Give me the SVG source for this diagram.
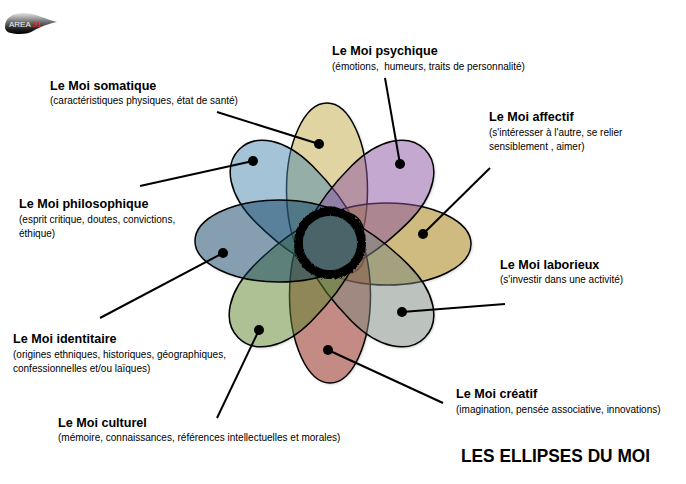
<svg xmlns="http://www.w3.org/2000/svg" width="686" height="484" viewBox="0 0 686 484">
<defs>
<linearGradient id="badge" x1="0" y1="0" x2="0" y2="1"><stop offset="0" stop-color="#e4e4e4"/><stop offset="0.4" stop-color="#777"/><stop offset="0.75" stop-color="#222"/><stop offset="1" stop-color="#000"/></linearGradient>
<filter id="soft" x="-10%" y="-10%" width="120%" height="120%"><feGaussianBlur stdDeviation="1.5"/></filter>
<filter id="rough" x="-20%" y="-20%" width="140%" height="140%"><feTurbulence type="fractalNoise" baseFrequency="0.35" numOctaves="2" seed="4"/><feDisplacementMap in="SourceGraphic" scale="3.5" xChannelSelector="R" yChannelSelector="G"/></filter>
<path id="egg" d="M-86 0C-86 -26 -30 -40 20 -40C58 -40 83 -23 83 0C83 23 58 40 20 40C-30 40 -86 26 -86 0Z"/>
<g id="flower">
<ellipse cx="327" cy="190" rx="40.5" ry="87"/>
<ellipse cx="387" cy="244" rx="84" ry="41"/>
<ellipse cx="330" cy="295" rx="40.5" ry="88"/>
<ellipse cx="279" cy="241" rx="84" ry="41"/>
<use href="#egg" transform="translate(366 208) rotate(-45)"/>
<use href="#egg" transform="translate(366 279) rotate(45)"/>
<use href="#egg" transform="translate(297 279) rotate(135)"/>
<use href="#egg" transform="translate(298 208) rotate(225)"/>
</g>
</defs>
<style>
text{font-family:"Liberation Sans",Arial,sans-serif;fill:#000}
.t{font-size:12.6px;font-weight:bold}
.s{font-size:10px;white-space:pre}
.e{stroke:#000;stroke-width:1.5;fill-opacity:.5}
.c{stroke:#000;stroke-width:2;fill:none}
.d{fill:#000}
</style>
<rect width="686" height="484" fill="#fff"/>
<g id="logo"><path d="M5 27C5 18 12 13 24 13C36 13 44 19 57 22C47 24 40 27 33 31C30 33 26 34 20 34C10 34 5 32 5 27Z" fill="url(#badge)"/><text x="9" y="27" style="font-size:8px;fill:#f2f2f2">AREA</text><text x="32" y="27" style="font-size:8px;fill:#f02020">31</text></g>
<use id="shadows" href="#flower" transform="translate(1 1)" fill="#888" opacity=".55" filter="url(#soft)"/>
<use id="backing" href="#flower" fill="#fff"/>
<g id="petals">
<ellipse id="e-somatique" class="e" fill="#c1a945" cx="327" cy="190" rx="40.5" ry="87"/>
<use id="e-philo" class="e" fill="#4b87ad" href="#egg" transform="translate(298 208) rotate(225)"/>
<ellipse id="e-affectif" class="e" fill="#9f7701" cx="387" cy="244" rx="84" ry="41"/>
<use id="e-psychique" class="e" fill="#8951a1" href="#egg" transform="translate(366 208) rotate(-45)"/>
<ellipse id="e-creatif" class="e" fill="#891509" cx="330" cy="295" rx="40.5" ry="88"/>
<use id="e-laborieux" class="e" fill="#79877d" href="#egg" transform="translate(366 279) rotate(45)"/>
<use id="e-culturel" class="e" fill="#5b832b" href="#egg" transform="translate(297 279) rotate(135)"/>
<ellipse id="e-identitaire" class="e" fill="#0d3f61" cx="279" cy="241" rx="84" ry="41"/>
</g>
<g id="centre">
<circle cx="330" cy="243" r="31.5" fill="none" stroke="#000" stroke-width="9" filter="url(#rough)"/>
<circle cx="330" cy="243" r="27" fill="#4a646a"/>
</g>
<g id="connectors">
<path class="c" d="M217 112L319 144"/><path class="c" d="M385 78L400 164"/><path class="c" d="M490 168L423 234"/><path class="c" d="M505 304L402 312"/><path class="c" d="M443 403L328 350"/><path class="c" d="M217 418L259 330"/><path class="c" d="M100 318L223 253"/><path class="c" d="M140 186L253 161"/>
</g>
<g id="dots">
<circle class="d" cx="319" cy="144" r="5"/><circle class="d" cx="400" cy="164" r="5"/><circle class="d" cx="423" cy="234" r="5"/><circle class="d" cx="402" cy="312" r="5"/><circle class="d" cx="328" cy="350" r="5"/><circle class="d" cx="259" cy="330" r="5"/><circle class="d" cx="223" cy="253" r="5"/><circle class="d" cx="253" cy="161" r="5"/>
</g>
<g id="label-psychique"><text class="t" x="332" y="55">Le Moi psychique</text><text class="s" x="332" y="70">(émotions,  humeurs, traits de personnalité)</text></g>
<g id="label-somatique"><text class="t" x="50" y="90">Le Moi somatique</text><text class="s" x="50" y="104">(caractéristiques physiques, état de santé)</text></g>
<g id="label-affectif"><text class="t" x="489" y="121">Le Moi affectif</text><text class="s" x="489" y="136">(s'intéresser à l'autre, se relier</text><text class="s" x="489" y="150">sensiblement , aimer)</text></g>
<g id="label-philo"><text class="t" x="19" y="208">Le Moi philosophique</text><text class="s" x="19" y="223">(esprit critique, doutes, convictions,</text><text class="s" x="19" y="237">éthique)</text></g>
<g id="label-laborieux"><text class="t" x="500" y="269">Le Moi laborieux</text><text class="s" x="500" y="283">(s'investir dans une activité)</text></g>
<g id="label-identitaire"><text class="t" x="13" y="343">Le Moi identitaire</text><text class="s" x="13" y="358">(origines ethniques, historiques, géographiques,</text><text class="s" x="13" y="372">confessionnelles et/ou laïques)</text></g>
<g id="label-creatif"><text class="t" x="456" y="398">Le Moi créatif</text><text class="s" x="456" y="413">(imagination, pensée associative, innovations)</text></g>
<g id="label-culturel"><text class="t" x="58" y="427">Le Moi culturel</text><text class="s" x="58" y="441">(mémoire, connaissances, références intellectuelles et morales)</text></g>
<text id="title" x="461" y="462" style="font-size:19px;font-weight:bold" textLength="189" lengthAdjust="spacingAndGlyphs">LES ELLIPSES DU MOI</text>
</svg>
